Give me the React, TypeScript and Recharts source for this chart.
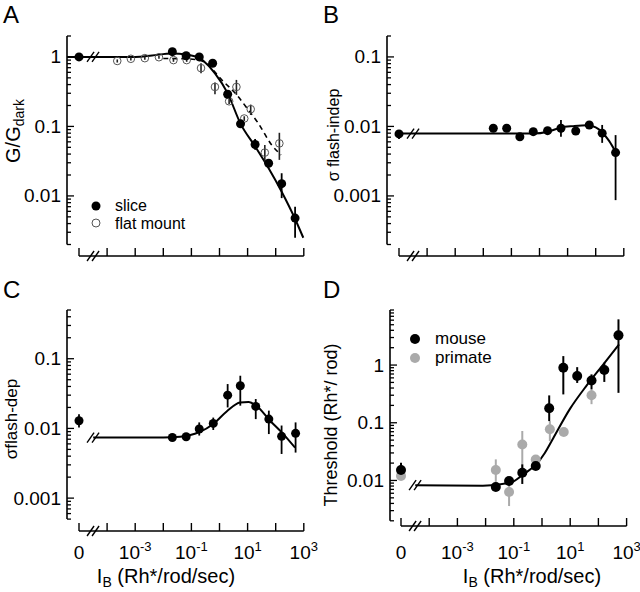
import React from "react";
import {
  ComposedChart,
  ErrorBar,
  Line,
  ReferenceDot,
  ReferenceLine,
  Scatter,
  XAxis,
  YAxis,
} from "recharts";

const FONT = "'Liberation Sans', Arial, Helvetica, sans-serif";

// x is plotted in log10(I_B); the dark point (I_B = 0) sits at ZERO_POS
const ZERO_POS = -5;
const BREAK_POS = -4.5;
const X_TICKS = [-5, -4, -3, -2, -1, 0, 1, 2, 3];
const X_LABELLED = [-5, -3, -1, 1, 3];

// ---- A: G/Gdark ----
const A_SLICE_I = [0, 0.021, 0.065, 0.19, 0.57, 1.95, 5.6, 18.5, 56, 163, 490];
const A_SLICE_G = [1.0, 1.19, 1.04, 1.0, 0.81, 0.29, 0.109, 0.055, 0.0295, 0.015, 0.0048];
const A_SLICE_LO = [1.0, 1.19, 1.04, 0.95, 0.77, 0.27, 0.1, 0.046, 0.027, 0.0093, 0.0025];
const A_SLICE_HI = [1.0, 1.19, 1.04, 1.05, 0.85, 0.31, 0.118, 0.066, 0.032, 0.0212, 0.007];

const A_FLAT_I = [2.3e-4, 7e-4, 0.0022, 0.007, 0.023, 0.068, 0.22, 0.69, 2.2, 4.0, 7.6, 12.9, 41, 135];
const A_FLAT_G = [0.875, 0.94, 0.96, 0.99, 0.9, 0.9, 0.69, 0.37, 0.23, 0.37, 0.13, 0.177, 0.042, 0.057];
const A_FLAT_LO = [0.83, 0.89, 0.91, 0.94, 0.85, 0.85, 0.58, 0.29, 0.21, 0.284, 0.12, 0.146, 0.031, 0.033];
const A_FLAT_HI = [0.92, 0.99, 1.01, 1.04, 0.95, 0.95, 0.81, 0.43, 0.25, 0.467, 0.14, 0.206, 0.054, 0.081];

const A_FIT_I = [0, 0.001, 0.004, 0.02, 0.068, 0.2, 0.265, 0.69, 1.9, 5.7, 18.3, 56, 163, 486, 960];
const A_FIT_G = [1.0, 1.0, 1.05, 1.12, 1.08, 0.96, 0.88, 0.58, 0.306, 0.108, 0.052, 0.025, 0.0115, 0.0047, 0.0025];
const A_FLATFIT_I = [0.01, 0.068, 0.265, 1.2, 4.1, 10.6, 24, 72, 155];
const A_FLATFIT_G = [0.95, 0.94, 0.86, 0.467, 0.284, 0.173, 0.111, 0.054, 0.039];

// ---- B: sigma flash-indep ----
const B_I = [0, 0.0227, 0.068, 0.2, 0.6, 1.94, 5.8, 19.5, 59, 170, 510];
const B_S = [0.0078, 0.0094, 0.0094, 0.0071, 0.0084, 0.0087, 0.0094, 0.0086, 0.0105, 0.008, 0.0042];
const B_LO = [0.0066, 0.0085, 0.0086, 0.0066, 0.0074, 0.008, 0.0071, 0.0077, 0.0094, 0.0058, 0.00087];
const B_HI = [0.0089, 0.0104, 0.0102, 0.0076, 0.0095, 0.0094, 0.0124, 0.0095, 0.0117, 0.0105, 0.0075];
const B_FIT_I = [0, 0.6, 2, 5.5, 16, 50, 100, 162, 300, 510];
const B_FIT_S = [0.0079, 0.0079, 0.0084, 0.0096, 0.0101, 0.0104, 0.0097, 0.0084, 0.0062, 0.0043];

// ---- C: sigma flash-dep ----
const C_I = [0, 0.021, 0.065, 0.19, 0.6, 1.95, 5.5, 19.5, 57, 162, 510];
const C_S = [0.0129, 0.0074, 0.0076, 0.0098, 0.0118, 0.03, 0.041, 0.0207, 0.0136, 0.0077, 0.0085];
const C_LO = [0.0103, 0.007, 0.0072, 0.0079, 0.0095, 0.02, 0.0212, 0.0136, 0.0083, 0.0043, 0.0045];
const C_HI = [0.016, 0.0078, 0.008, 0.0122, 0.0143, 0.0433, 0.057, 0.0264, 0.018, 0.011, 0.0122];
const C_FIT_I = [3.2e-5, 0.01, 0.04, 0.186, 0.6, 1.8, 5.4, 10.7, 21, 63, 187, 490];
const C_FIT_S = [0.0074, 0.0074, 0.0076, 0.0088, 0.0116, 0.0175, 0.0236, 0.024, 0.021, 0.0129, 0.0083, 0.0053];

// ---- D: threshold ----
const D_MOUSE_I = [0, 0.023, 0.068, 0.2, 0.6, 1.8, 5.7, 17.7, 57, 162, 515];
const D_MOUSE = [0.0152, 0.0077, 0.0098, 0.0136, 0.0178, 0.178, 0.9, 0.645, 0.54, 0.82, 3.27];
const D_MOUSE_LO = [0.0111, 0.007, 0.0088, 0.0087, 0.016, 0.107, 0.31, 0.49, 0.38, 0.51, 0.33];
const D_MOUSE_HI = [0.0203, 0.0084, 0.0112, 0.019, 0.0205, 0.298, 1.43, 0.92, 0.69, 1.1, 6.2];
const D_PRIM_I = [0, 0.023, 0.068, 0.2, 0.6, 1.9, 5.9, 57];
const D_PRIM = [0.012, 0.0152, 0.0063, 0.042, 0.023, 0.077, 0.069, 0.3];
const D_PRIM_LO = [0.012, 0.0092, 0.0036, 0.0128, 0.02, 0.048, 0.064, 0.21];
const D_PRIM_HI = [0.012, 0.0232, 0.0098, 0.072, 0.026, 0.107, 0.075, 0.38];
const D_FIT_I = [3.2e-5, 0.008, 0.074, 0.22, 0.4, 0.65, 1.26, 2.5, 9.8, 38, 150, 540];
const D_FIT_T = [0.0083, 0.0081, 0.0091, 0.0128, 0.0158, 0.0195, 0.03, 0.054, 0.174, 0.44, 1.03, 2.28];

type Frame = {
  left: number; // y axis x (px)
  right: number; // plot right edge (px)
  zeroPx: number; // px of the I_B = 0 tick
  decX: number; // px per decade, x
  top: number; // top tick value
  topPx: number;
  decY: number; // px per decade, y
  bottom: number; // x axis line (px)
  low: number; // bottom tick value
  labelY?: number;
};

const FA: Frame = { left: 67, right: 310, zeroPx: 79, decX: 28.1, top: 2, topPx: 36, decY: 69.5, bottom: 256, low: 0.002 };
const FB: Frame = { left: 67, right: 310, zeroPx: 79, decX: 28.1, top: 0.2, topPx: 36, decY: 69.5, bottom: 256, low: 0.0002 };
const FC: Frame = { left: 67, right: 310, zeroPx: 79, decX: 28.1, top: 0.5, topPx: 14, decY: 69.7, bottom: 235, low: 0.0005, labelY: 263 };
const FD: Frame = { left: 70, right: 313, zeroPx: 81, decX: 28.2, top: 9, topPx: 14, decY: 57.7, bottom: 230, low: 0.002, labelY: 263 };

const xpos = (i: number) => (i === 0 ? ZERO_POS : Math.log10(i));

function points(xs: number[], ys: number[], lo?: number[], hi?: number[]) {
  return xs.map((I, k) => ({
    x: xpos(I),
    y: ys[k],
    err: lo && hi ? [ys[k] - lo[k], hi[k] - ys[k]] : [0, 0],
  }));
}

const xDom = (f: Frame): [number, number] => [
  ZERO_POS - (f.zeroPx - f.left) / f.decX,
  ZERO_POS + (f.right - f.zeroPx) / f.decX,
];
const yDom = (f: Frame): [number, number] => [
  Math.pow(10, Math.log10(f.top) - (f.bottom - f.topPx) / f.decY),
  f.top,
];

function yTicks(low: number, top: number) {
  const out: number[] = [];
  const e0 = Math.round(Math.floor(Math.log10(low) + 1e-9));
  const e1 = Math.round(Math.ceil(Math.log10(top) - 1e-9));
  for (let e = e0; e <= e1; e++) {
    for (let m = 1; m <= 9; m++) {
      const v = +(m * Math.pow(10, e)).toPrecision(6);
      if (v >= low * 0.999 && v <= top * 1.001) out.push(v);
    }
  }
  return out;
}

function YTick(props: any) {
  const { x, y, payload } = props;
  const v = payload.value as number;
  const lg = Math.log10(v);
  const major = Math.abs(lg - Math.round(lg)) < 1e-6;
  return (
    <g>
      <line x1={x} x2={x + (major ? 7 : 4)} y1={y} y2={y} stroke="#000" strokeWidth={1.3} />
      {major && (
        <text x={x - 6} y={y} textAnchor="end" dominantBaseline="central" fontSize={19} fontFamily={FONT} fill="#000">
          {String(v)}
        </text>
      )}
    </g>
  );
}

function XTick(props: any) {
  const { x, y, payload, labelY } = props;
  const v = payload.value as number;
  const show = labelY !== undefined && X_LABELLED.includes(v);
  return (
    <g>
      <line x1={x} x2={x} y1={y} y2={y - 8} stroke="#000" strokeWidth={1.4} />
      {show && (
        <text x={x} y={labelY} textAnchor="middle" fontSize={19} fontFamily={FONT} fill="#000">
          {v === ZERO_POS ? (
            "0"
          ) : (
            <>
              10
              <tspan fontSize={13} dy={-8}>
                {String(v)}
              </tspan>
            </>
          )}
        </text>
      )}
    </g>
  );
}

const BreakMark = (p: any) => (
  <g stroke="#000" strokeWidth={1.4}>
    <line x1={p.cx - 6} y1={p.cy + 5} x2={p.cx + 1} y2={p.cy - 5} />
    <line x1={p.cx - 1} y1={p.cy + 5} x2={p.cx + 6} y2={p.cy - 5} />
  </g>
);

const dot = (fill: string, r: number) => (p: any) => <circle cx={p.cx} cy={p.cy} r={r} fill={fill} />;
const ring = (p: any) => <circle cx={p.cx} cy={p.cy} r={3.8} fill="none" stroke="#555" strokeWidth={1} />;

function Panel({ f, lineY, children }: { f: Frame; lineY: number; children: React.ReactNode }) {
  const xd = xDom(f);
  const yd = yDom(f);
  return (
    <ComposedChart width={320} height={296} margin={{ top: f.topPx, right: 320 - f.right, bottom: 0, left: 0 }}>
      <XAxis
        type="number"
        dataKey="x"
        domain={xd}
        allowDataOverflow
        ticks={X_TICKS}
        interval={0}
        axisLine={false}
        tickLine={false}
        tickSize={0}
        tickMargin={0}
        height={296 - f.bottom}
        tick={(p: any) => <XTick {...p} labelY={f.labelY} />}
      />
      <YAxis
        type="number"
        dataKey="y"
        scale="log"
        domain={yd}
        allowDataOverflow
        ticks={yTicks(f.low, f.top)}
        interval={0}
        axisLine={false}
        tickLine={false}
        tickSize={0}
        tickMargin={0}
        width={f.left}
        tick={YTick}
      />
      <ReferenceLine
        segment={[{ x: xd[0], y: f.low }, { x: xd[0], y: f.top }]}
        stroke="#000"
        strokeWidth={1.6}
        ifOverflow="visible"
      />
      <ReferenceLine
        segment={[{ x: ZERO_POS, y: yd[0] }, { x: 3, y: yd[0] }]}
        stroke="#000"
        strokeWidth={1.6}
        ifOverflow="visible"
      />
      <ReferenceDot x={BREAK_POS} y={yd[0]} r={0} shape={BreakMark} ifOverflow="visible" />
      {children}
      <ReferenceDot x={BREAK_POS} y={lineY} r={0} shape={BreakMark} ifOverflow="visible" />
    </ComposedChart>
  );
}

const box = (left: number, top: number): React.CSSProperties => ({ position: "absolute", left, top });

export default function App() {
  const aFit = [{ x: xDom(FA)[0], y: A_FIT_G[0], err: [0, 0] }, ...points(A_FIT_I, A_FIT_G)];
  return (
    <div style={{ position: "absolute", left: 0, top: 0, width: 640, height: 592, background: "#fff", fontFamily: FONT }}>
      <div style={box(0, 0)}>
        <Panel f={FA} lineY={1}>
          <Line data={aFit} dataKey="y" type="monotone" stroke="#000" strokeWidth={2} dot={false} isAnimationActive={false} />
          <Line data={points(A_FLATFIT_I, A_FLATFIT_G)} dataKey="y" type="monotone" stroke="#000" strokeWidth={1.6} strokeDasharray="5 4" dot={false} isAnimationActive={false} />
          <Scatter data={points(A_FLAT_I, A_FLAT_G, A_FLAT_LO, A_FLAT_HI)} shape={ring} isAnimationActive={false}>
            <ErrorBar dataKey="err" direction="y" width={0} stroke="#222" strokeWidth={1.6} />
          </Scatter>
          <Scatter data={points(A_SLICE_I, A_SLICE_G, A_SLICE_LO, A_SLICE_HI)} shape={dot("#000", 4.5)} isAnimationActive={false}>
            <ErrorBar dataKey="err" direction="y" width={0} stroke="#000" strokeWidth={1.8} />
          </Scatter>
        </Panel>
      </div>
      <div style={box(320, 0)}>
        <Panel f={FB} lineY={B_FIT_S[0]}>
          <Line data={points(B_FIT_I, B_FIT_S)} dataKey="y" type="monotone" stroke="#000" strokeWidth={2} dot={false} isAnimationActive={false} />
          <Scatter data={points(B_I, B_S, B_LO, B_HI)} shape={dot("#000", 4.5)} isAnimationActive={false}>
            <ErrorBar dataKey="err" direction="y" width={0} stroke="#000" strokeWidth={1.8} />
          </Scatter>
        </Panel>
      </div>
      <div style={box(0, 296)}>
        <Panel f={FC} lineY={C_FIT_S[0]}>
          <Line data={points(C_FIT_I, C_FIT_S)} dataKey="y" type="monotone" stroke="#000" strokeWidth={2} dot={false} isAnimationActive={false} />
          <Scatter data={points(C_I, C_S, C_LO, C_HI)} shape={dot("#000", 4.5)} isAnimationActive={false}>
            <ErrorBar dataKey="err" direction="y" width={0} stroke="#000" strokeWidth={1.8} />
          </Scatter>
        </Panel>
      </div>
      <div style={box(320, 296)}>
        <Panel f={FD} lineY={D_FIT_T[0]}>
          <Line data={points(D_FIT_I, D_FIT_T)} dataKey="y" type="monotone" stroke="#000" strokeWidth={2} dot={false} isAnimationActive={false} />
          <Scatter data={points(D_PRIM_I, D_PRIM, D_PRIM_LO, D_PRIM_HI)} shape={dot("#aaaaaa", 5)} isAnimationActive={false}>
            <ErrorBar dataKey="err" direction="y" width={0} stroke="#aaaaaa" strokeWidth={2} />
          </Scatter>
          <Scatter data={points(D_MOUSE_I, D_MOUSE, D_MOUSE_LO, D_MOUSE_HI)} shape={dot("#000", 5)} isAnimationActive={false}>
            <ErrorBar dataKey="err" direction="y" width={0} stroke="#000" strokeWidth={2} />
          </Scatter>
        </Panel>
      </div>

      <svg width={640} height={592} style={{ position: "absolute", left: 0, top: 0, pointerEvents: "none" }} fontFamily={FONT}>
        <g fontSize={24} fill="#000">
          <text x={3} y={23}>A</text>
          <text x={323} y={23}>B</text>
          <text x={3} y={298}>C</text>
          <text x={323} y={298}>D</text>
        </g>

        <text transform="translate(20,131) rotate(-90)" textAnchor="middle" fontSize={20}>
          G/G<tspan fontSize={14} dy={4}>dark</tspan>
        </text>
        <text transform="translate(339,135) rotate(-90)" textAnchor="middle" fontSize={16}>
          σ flash-indep
        </text>
        <text transform="translate(17,419) rotate(-90)" textAnchor="middle" fontSize={17}>
          σflash-dep
        </text>
        <text transform="translate(337,425) rotate(-90)" textAnchor="middle" fontSize={18}>
          Threshold (Rh*/ rod)
        </text>

        <text x={166} y={583} textAnchor="middle" fontSize={20}>
          I<tspan fontSize={14} dy={4}>B</tspan>
          <tspan dy={-4}> (Rh*/rod/sec)</tspan>
        </text>
        <text x={532} y={583} textAnchor="middle" fontSize={20}>
          I<tspan fontSize={14} dy={4}>B</tspan>
          <tspan dy={-4}> (Rh*/rod/sec)</tspan>
        </text>

        <circle cx={96} cy={206} r={4.5} fill="#000" />
        <text x={115} y={211} fontSize={16}>slice</text>
        <circle cx={96} cy={223} r={4} fill="none" stroke="#555" strokeWidth={1} />
        <text x={115} y={228.5} fontSize={16}>flat mount</text>

        <circle cx={415} cy={339} r={5} fill="#000" />
        <text x={435} y={344} fontSize={17}>mouse</text>
        <circle cx={415} cy={358} r={5} fill="#aaaaaa" />
        <text x={435} y={362.5} fontSize={17}>primate</text>
      </svg>
    </div>
  );
}
